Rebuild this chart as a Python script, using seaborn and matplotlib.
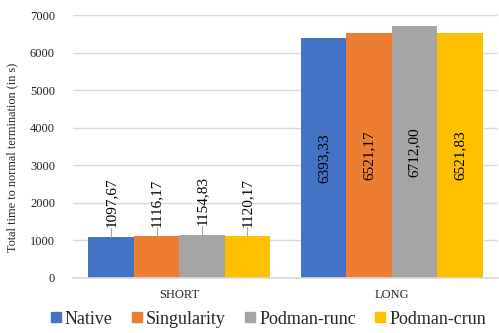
import matplotlib
matplotlib.use("Agg")
import matplotlib.pyplot as plt
import seaborn as sns
import pandas as pd
from matplotlib.lines import Line2D

categories = ["SHORT", "LONG"]
series = ["Native", "Singularity", "Podman-runc", "Podman-crun"]
native = [1097.67, 6393.33]
singularity = [1116.17, 6521.17]
podman_runc = [1154.83, 6712.00]
podman_crun = [1120.17, 6521.83]
colors = ["#4472C4", "#ED7D31", "#A5A5A5", "#FFC000"]

rows = []
for s, vals in zip(series, [native, singularity, podman_runc, podman_crun]):
    for c, v in zip(categories, vals):
        rows.append({"cat": c, "series": s, "value": v})
df = pd.DataFrame(rows)

sns.set_theme(style="white")
plt.rcParams["font.family"] = "serif"
plt.rcParams["font.serif"] = ["Liberation Serif", "DejaVu Serif"]

fig = plt.figure(figsize=(4.99, 3.33), dpi=100)
ax = fig.add_axes([73/499, 1-278/333, 425/499, 263/333])
sns.barplot(data=df, x="cat", y="value", hue="series", order=categories,
            hue_order=series, palette=colors, width=0.855, gap=0,
            saturation=1, ax=ax, linewidth=0, edgecolor="none", legend=True)

ax.set_ylim(0, 7000)
ax.set_xlim(-0.5, 1.5)
ax.set_yticks(range(0, 7001, 1000))
ax.grid(axis="y", color="#D9D9D9", linewidth=1)
ax.set_axisbelow(True)
for sp in ["top", "right", "left"]:
    ax.spines[sp].set_visible(False)
ax.spines["bottom"].set_color("#D9D9D9")
ax.tick_params(axis="y", length=0, pad=13, labelsize=9)
ax.tick_params(axis="x", length=0, pad=8, labelsize=9)
ax.set_xlabel("")
ax.set_ylabel("Total time to normal termination (in s)", fontsize=8.8)
ax.yaxis.set_label_coords(-0.129, 0.46)

for cont in ax.containers:
    for p in cont.patches:
        h = p.get_height()
        xc = p.get_x() + p.get_width() / 2
        lab = f"{h:.2f}".replace(".", ",")
        if h > 3000:
            ax.text(xc, h / 2, lab, rotation=90, ha="center", va="center",
                    fontsize=11, color="black")
        else:
            ax.plot([xc, xc], [h, h + 240], color="#A6A6A6", linewidth=0.8)
            ax.text(xc, h + 250, lab, rotation=90, ha="center", va="bottom",
                    fontsize=11, color="black")

ax.legend_.remove()
hs = [Line2D([], [], marker="s", linestyle="none", markersize=7,
             markerfacecolor=c, markeredgecolor=c) for c in colors]
fig.legend(hs, series, loc="center", bbox_to_anchor=(0.535, 1-319/333),
           ncol=4, frameon=False, fontsize=13, handletextpad=0.05,
           columnspacing=0.9, handlelength=0.9)

fig.savefig("out.png", dpi=100)
